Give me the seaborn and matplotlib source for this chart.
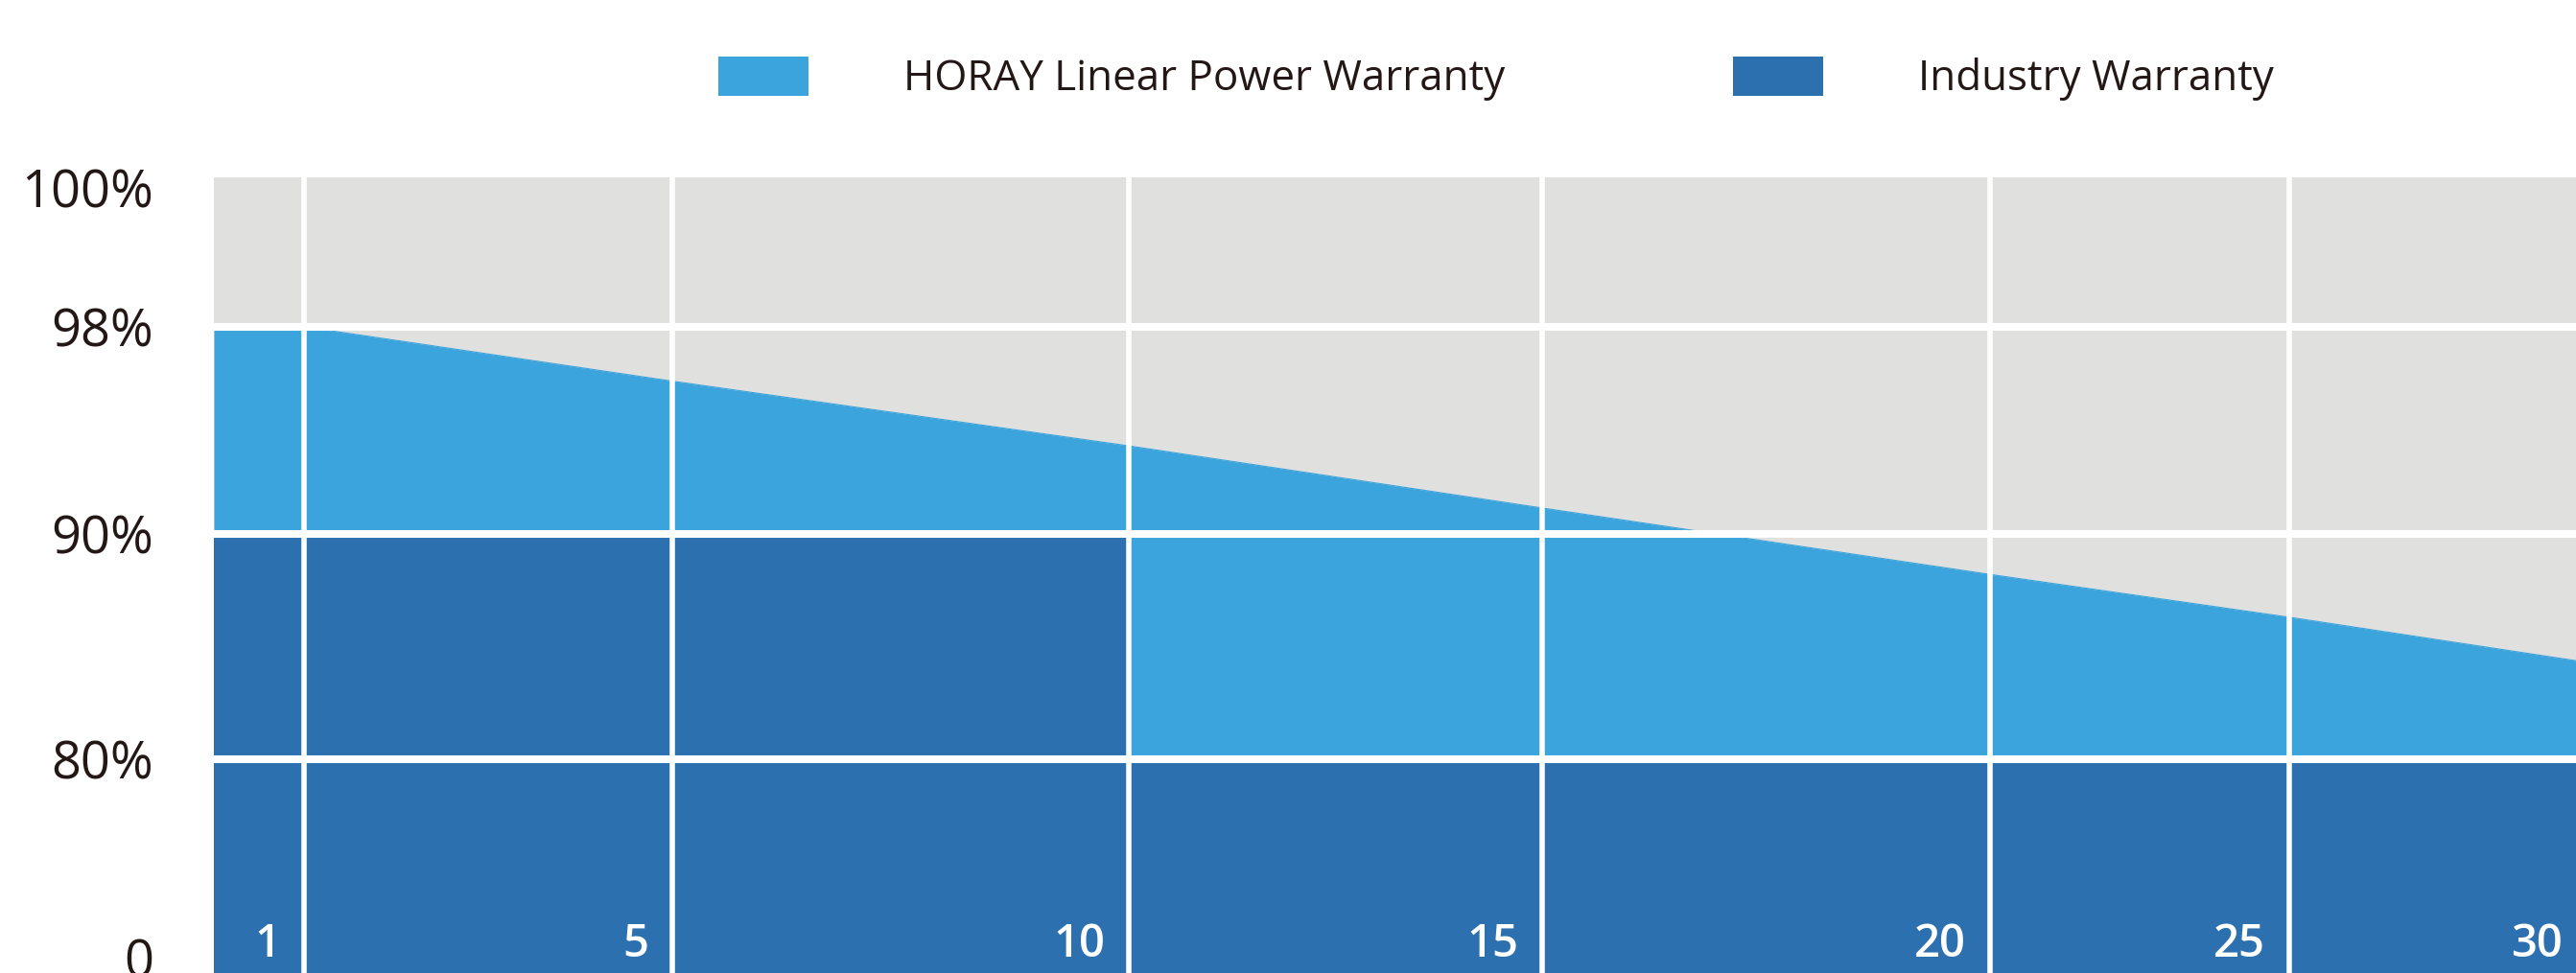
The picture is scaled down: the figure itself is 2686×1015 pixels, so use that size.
import numpy as np
import matplotlib
matplotlib.use("Agg")
import matplotlib.pyplot as plt
from matplotlib.patches import Patch
import seaborn as sns

# ---------------- data ----------------
horay_years = [0, 1, 5, 10, 15, 20, 25, 30]
horay_values = [98.0, 98.0, 95.9, 93.4, 91.0, 88.2, 86.3, 84.3]
industry_years = [0, 10, 10, 30]
industry_values = [90.0, 90.0, 80.0, 80.0]
x_tick_years = [1, 5, 10, 15, 20, 25, 30]
x_tick_labels = ["1", "5", "10", "15", "20", "25", "30"]
y_tick_values = [0, 80, 90, 98, 100]
y_tick_labels = ["0", "80%", "90%", "98%", "100%"]
grid_y = [80, 90, 98]
grid_x = [1, 5, 10, 15, 20, 25]
series_names = ["HORAY Linear Power Warranty", "Industry Warranty"]

# ---------------- style ----------------
C_GRAY = "#E0E0DF"
C_LIGHT = "#3BA4DC"
C_DARK = "#2D70B0"
C_TEXT = "#231815"

sns.set_style("white")
plt.rcParams["font.family"] = ["Open Sans", "DejaVu Sans"]

# piecewise-linear axis scales (non-uniform chart layout)
X_BREAKS = [0, 1, 5, 10, 15, 20, 25, 30]
X_POS = [0, 94, 478, 954, 1385, 1852, 2164, 2474]
Y_BREAKS = [0, 80, 90, 98, 100]
Y_POS = [0, 206, 441, 657, 802]


def piecewise(xp, fp):
    xp = np.asarray(xp, float)
    fp = np.asarray(fp, float)

    def f(v):
        v = np.asarray(v, float)
        out = np.interp(v, xp, fp)
        lo_slope = (fp[1] - fp[0]) / (xp[1] - xp[0])
        hi_slope = (fp[-1] - fp[-2]) / (xp[-1] - xp[-2])
        out = np.where(v < xp[0], fp[0] + (v - xp[0]) * lo_slope, out)
        out = np.where(v > xp[-1], fp[-1] + (v - xp[-1]) * hi_slope, out)
        return out

    return f


W, H = 2686, 1015
fig = plt.figure(figsize=(W / 100, H / 100), dpi=100)
fig.patch.set_facecolor("white")
ax = fig.add_axes([223 / W, 0, (W - 223) / W, (H - 185) / H])
ax.set_facecolor(C_GRAY)

ax.set_xscale("function", functions=(piecewise(X_BREAKS, X_POS), piecewise(X_POS, X_BREAKS)))
ax.set_yscale("function", functions=(piecewise(Y_BREAKS, Y_POS), piecewise(Y_POS, Y_BREAKS)))

floor = -20
ax.fill_between(horay_years, floor, horay_values, color=C_LIGHT, linewidth=0, zorder=1)
sns.lineplot(x=horay_years, y=horay_values, ax=ax, color=C_LIGHT, linewidth=0.8, zorder=1.5)
ax.fill_between(industry_years, floor, industry_values, color=C_DARK, linewidth=0, zorder=2)

for gy in grid_y:
    ax.axhline(gy, color="white", linewidth=5.8, zorder=5)
for gx in grid_x:
    ax.axvline(gx, color="white", linewidth=4.0, zorder=5)

ax.set_xlim(0, 29.82)
ax.set_ylim(-6.6, 100.15)

ax.set_yticks(y_tick_values, labels=y_tick_labels)
ax.tick_params(axis="y", length=0, pad=45, labelsize=39, labelcolor=C_TEXT)
ax.set_xticks([])
ax.set_xlabel("")
ax.set_ylabel("")
for s in ax.spines.values():
    s.set_visible(False)

for yr, lab in zip(x_tick_years, x_tick_labels):
    ax.annotate(lab, xy=(yr, 0), xycoords=("data", "axes fraction"),
                xytext=(-18, 21.6), textcoords="offset points",
                ha="right", va="center", color="white", fontsize=34,
                fontweight="semibold", annotation_clip=False, zorder=10)

handles = [Patch(facecolor=C_LIGHT, edgecolor="none"),
           Patch(facecolor=C_DARK, edgecolor="none")]
fs = 31.6
em = fs / 72 * 100
fig.legend(handles, series_names, loc="center left",
           bbox_to_anchor=(749 / W, 1 - 82 / H), ncol=2, frameon=False,
           fontsize=fs, labelcolor=C_TEXT, borderpad=0, borderaxespad=0,
           handlelength=94 / em, handleheight=46 / em,
           handletextpad=99 / em, columnspacing=238 / em)

fig.savefig("out.png", dpi=100, facecolor="white")
